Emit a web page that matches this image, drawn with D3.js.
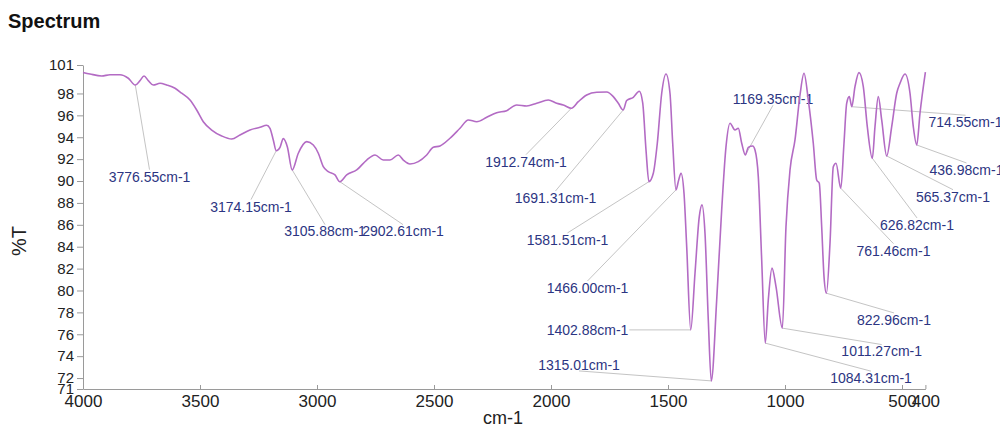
<!DOCTYPE html>
<html>
<head>
<meta charset="utf-8">
<script src="https://cdn.jsdelivr.net/npm/d3@7"></script>
<style>
  body { margin: 0; background: #fff; }
  svg { display: block; font-family: "Liberation Sans", Arial, sans-serif; }
</style>
</head>
<body>
<svg id="chart" width="1000" height="427"></svg>
<script>
// Spectrum trace (cm-1, %T)
var wavenumber = [4000,3970.1,3920.1,3884.6,3841.9,3806.4,3776.55,3756.4,3739.3,3720.9,
  3699.6,3670.9,3642.3,3606.8,3578.2,3542.7,3514.1,3485.9,3450.0,3407.3,
  3364.5,3329.1,3286.3,3243.6,3215.0,3200.9,3186.8,3174.15,3158.1,3144.0,
  3126.9,3105.88,3079.9,3044.0,3015.8,2994.4,2973.1,2951.7,2923.1,2902.61,
  2873.1,2830.3,2787.6,2752.1,2716.7,2688.0,2652.6,2631.2,2602.6,2567.1,
  2531.2,2503.0,2474.4,2431.6,2388.9,2353.4,2317.5,2274.8,2232.1,2189.3,
  2146.6,2103.9,2061.1,2011.6,1975.6,1947.5,1912.74,1883.3,1847.5,1804.7,
  1762.0,1733.8,1712.4,1691.31,1676.5,1648.3,1622.7,1608.1,1594.0,1581.51,
  1562.8,1545.7,1526.9,1508.6,1491.5,1479.9,1466.00,1454.3,1444.4,1431.6,
  1420.1,1402.88,1384.6,1366.3,1354.7,1341.9,1327.8,1315.01,1291.9,1270.6,
  1252.1,1235.0,1213.7,1199.6,1185.0,1169.35,1156.9,1138.0,1128.2,1114.1,
  1099.6,1084.31,1071.4,1055.6,1038.5,1011.27,995.8,978.6,957.3,935.9,
  918.8,900.4,879.1,864.6,853.5,843.2,833.3,822.96,807.7,793.6,
  782.1,761.46,747.9,736.4,725.2,714.55,700.9,683.8,665.4,648.3,
  626.82,615.4,601.3,586.8,565.37,544.0,522.7,508.5,487.2,465.8,
  451.7,436.98,423.1,400];

var transmittance = [99.92,99.78,99.60,99.71,99.71,99.39,98.77,99.17,99.60,99.17,
  98.77,98.93,98.77,98.47,98.02,97.40,96.49,95.42,94.66,94.12,
  93.84,94.21,94.66,94.91,95.09,94.82,93.75,92.77,93.08,93.87,
  93.14,91.01,92.54,93.60,93.29,92.54,91.31,90.86,90.56,89.94,
  90.56,91.01,91.92,92.38,91.92,91.92,92.38,91.92,91.56,91.77,
  92.38,93.08,93.20,93.91,94.82,95.58,95.42,95.82,96.24,96.43,
  96.95,96.86,97.10,97.40,97.10,96.95,96.65,97.25,97.86,98.11,
  98.13,97.71,97.10,96.49,97.36,97.65,98.20,97.13,92.84,89.94,
  90.71,93.45,98.02,99.78,98.02,93.45,89.19,90.10,90.71,88.88,
  84.01,76.40,81.58,86.75,87.82,85.23,77.31,71.74,79.14,87.36,
  93.14,95.28,94.66,94.82,93.45,92.38,93.08,93.20,92.84,90.40,
  82.79,75.19,79.14,82.04,80.36,76.56,85.83,91.01,93.75,97.86,
  99.84,97.40,93.45,90.10,89.80,85.83,81.27,79.75,84.32,91.31,
  91.62,89.34,93.45,97.10,97.71,96.79,98.62,99.90,98.62,94.97,
  92.08,94.97,97.71,95.58,92.29,94.97,98.02,98.93,99.78,98.02,
  94.97,93.29,96.19,99.95];

// Labelled peaks and where their text sits (in cm-1 / %T units)
var peaks  = [3776.55,3174.15,3105.88,2902.61,1912.74,1691.31,1581.51,1466.00,1402.88,1315.01,
  1169.35,1084.31,1011.27,822.96,761.46,714.55,626.82,565.37,436.98];
var labelWn = [3715.8,3282.1,2965.8,2632.5,2106.8,1980.8,1929.5,1844.0,1844.0,1880.3,
  1051.3,632.5,586.8,534.2,536.4,228.6,435.9,282.1,224.4];
var labelT  = [90.40,87.66,85.38,85.38,91.77,88.45,84.62,80.23,76.40,73.20,
  97.47,71.99,74.42,77.31,83.64,95.37,85.99,88.57,91.01];

var xTicks = [4000,3500,3000,2500,2000,1500,1000,500,400];
var yTicks = [71,72,74,76,78,80,82,84,86,88,90,92,94,96,98,100.6];

// Layout
var plotLeft = 83, plotRight = 925.4, plotTop = 65, plotBottom = 389,
  lineColor = "#b36bc4",
  labelColor = "#2c3582",
  leaderColor = "#c4c4c4",
  axisColor = "#9a9a9a",
  tickTextColor = "#222";

var svg = d3.select("#chart");

var x = d3.scaleLinear().domain([4000, 400]).range([plotLeft, plotRight]);
var y = d3.scaleLinear().domain([71, 100.6]).range([plotBottom, plotTop]);

// Title
svg.append("text")
  .attr("x", 8).attr("y", 28)
  .attr("font-size", 20).attr("font-weight", "bold")
  .attr("fill", "#111")
  .text("Spectrum");

// Axes
var yAxis = svg.append("g")
  .attr("transform", "translate(" + plotLeft + ",0)")
  .call(d3.axisLeft(y).tickValues(yTicks).tickFormat(d3.format(".0f")).tickSize(6).tickSizeOuter(0).tickPadding(3));

var xAxis = svg.append("g")
  .attr("transform", "translate(0," + plotBottom + ")")
  .call(d3.axisBottom(x).tickValues(xTicks).tickFormat(d3.format("d")).tickSize(-4).tickSizeOuter(0).tickPadding(6));

[yAxis, xAxis].forEach(function(g) {
  g.select(".domain").attr("stroke", axisColor);
  g.selectAll(".tick line").attr("stroke", axisColor);
  g.selectAll(".tick text").attr("fill", tickTextColor).attr("font-family", "Liberation Sans, Arial, sans-serif");
});
yAxis.selectAll(".tick text").attr("font-size", 15);
xAxis.selectAll(".tick text").attr("font-size", 17);

// Axis titles
svg.append("text")
  .attr("transform", "translate(26,241) rotate(-90)")
  .attr("text-anchor", "middle")
  .attr("font-size", 20).attr("fill", "#222")
  .text("%T");

svg.append("text")
  .attr("x", 503).attr("y", 424)
  .attr("text-anchor", "middle")
  .attr("font-size", 18).attr("fill", "#222")
  .text("cm-1");

// Spectrum line
var data = d3.zip(wavenumber, transmittance);

var line = d3.line()
  .x(function(d) { return x(d[0]); })
  .y(function(d) { return y(d[1]); })
  .curve(d3.curveMonotoneX);

// Peak labels with leader lines
var leaders = svg.append("g");
var labels = svg.append("g");

peaks.forEach(function(p, i) {
  var px = x(p),
    py = y(transmittance[wavenumber.indexOf(p)]),
    cx = x(labelWn[i]),
    cy = y(labelT[i]);

  var t = labels.append("text")
    .attr("x", cx).attr("y", cy)
    .attr("dy", "0.35em")
    .attr("text-anchor", "middle")
    .attr("font-size", 14)
    .attr("fill", labelColor)
    .text(p.toFixed(2) + "cm-1");

  var half = t.node().getComputedTextLength() / 2;
  var ex = cx, ey;
  if (py < cy - 8) ey = cy - 7;        // label below the peak
  else if (py > cy + 8) ey = cy + 6;   // label above the peak
  else { ey = cy; ex = px > cx ? cx + half + 1 : cx - half - 1; }

  leaders.append("line")
    .attr("x1", px).attr("y1", py)
    .attr("x2", ex).attr("y2", ey)
    .attr("stroke", leaderColor)
    .attr("stroke-width", 1);
});

svg.append("path")
  .datum(data)
  .attr("d", line)
  .attr("fill", "none")
  .attr("stroke", lineColor)
  .attr("stroke-width", 1.6);
</script>
</body>
</html>
